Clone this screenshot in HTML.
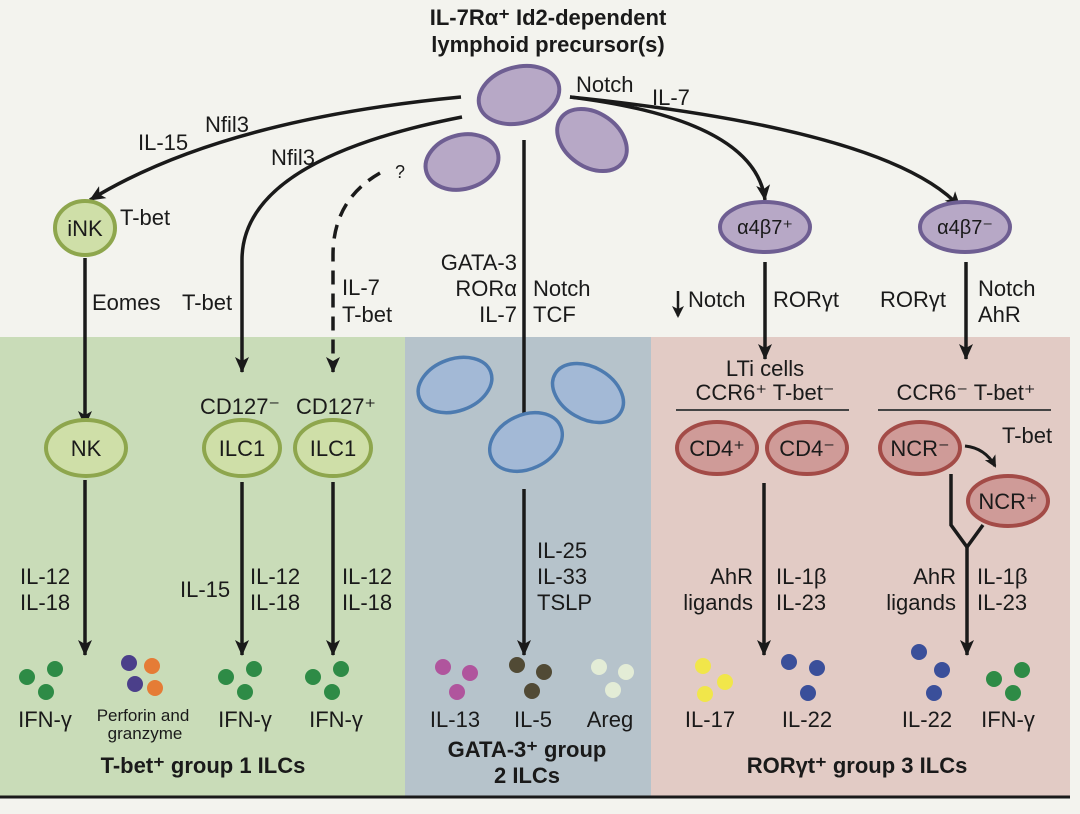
<!DOCTYPE html>
<html><head><meta charset="utf-8"><style>
body{margin:0;background:#f3f3ee;}
svg{display:block;font-family:"Liberation Sans",Arial,sans-serif;}
.t{font-size:22px;fill:#1a1a1a;}
.b{font-weight:bold;}
</style></head><body>
<svg width="1080" height="814" viewBox="0 0 1080 814">
<defs>
<marker id="ah" markerWidth="12" markerHeight="12" refX="10" refY="6" orient="auto" markerUnits="userSpaceOnUse">
<path d="M0,0 L12,6 L0,12 L3,6 Z" fill="#1a1a1a"/></marker>
<marker id="ahs" markerWidth="18" markerHeight="18" refX="15" refY="8" orient="auto" markerUnits="userSpaceOnUse">
<path d="M0,1 L16,8 L0,15 L4,8 Z" fill="#1a1a1a"/></marker>
</defs>
<rect width="1080" height="814" fill="#f3f3ee"/>
<rect x="0" y="337" width="405" height="459" fill="#c9dcb8"/>
<rect x="405" y="337" width="246" height="459" fill="#b6c3cb"/>
<rect x="651" y="337" width="419" height="459" fill="#e2cbc5"/>
<line x1="0" y1="797" x2="1070" y2="797" stroke="#1a1a1a" stroke-width="3"/>

<text x="548" y="25" text-anchor="middle" class="t b" font-size="24">IL-7Rα⁺ Id2-dependent</text>
<text x="548" y="52" text-anchor="middle" class="t b" font-size="24">lymphoid precursor(s)</text>

<g fill="none" stroke="#1a1a1a" stroke-width="3.5">
<path d="M461,97 Q220,120 90,200" marker-end="url(#ahs)"/>
<path d="M462,117 Q242,160 242,260 L242,372" marker-end="url(#ahs)"/>
<path d="M380,173 Q333,200 333,255 L333,372" stroke-dasharray="14,9" marker-end="url(#ahs)"/>
<path d="M524,140 L524,430" marker-end="url(#ahs)"/>
<path d="M570,97 Q755,120 765,200" marker-end="url(#ahs)"/>
<path d="M570,97 Q890,130 960,207" marker-end="url(#ahs)"/>
<path d="M85,258 L85,426" marker-end="url(#ahs)"/>
<path d="M85,480 L85,655" marker-end="url(#ahs)"/>
<path d="M242,482 L242,655" marker-end="url(#ahs)"/>
<path d="M333,482 L333,655" marker-end="url(#ahs)"/>
<path d="M524,489 L524,655" marker-end="url(#ahs)"/>
<path d="M765,262 L765,359" marker-end="url(#ahs)"/>
<path d="M966,262 L966,359" marker-end="url(#ahs)"/>
<path d="M764,483 L764,655" marker-end="url(#ahs)"/>
<path d="M951,474 L951,525 L967,547 L983,525"/>
<path d="M967,547 L967,655" marker-end="url(#ahs)"/>
<path d="M965,446 Q985,448 995,466" stroke-width="3" marker-end="url(#ah)"/>
</g>
<path d="M678,291 L678,316" stroke="#1a1a1a" stroke-width="2.5" marker-end="url(#ah)"/>
<line x1="676" y1="410" x2="849" y2="410" stroke="#444" stroke-width="2"/>
<line x1="878" y1="410" x2="1051" y2="410" stroke="#444" stroke-width="2"/>

<g fill="#b7a8c6" stroke="#6e5e92" stroke-width="4">
<ellipse cx="519" cy="95" rx="41" ry="28" transform="rotate(-15 519 95)"/>
<ellipse cx="462" cy="162" rx="37" ry="27" transform="rotate(-15 462 162)"/>
<ellipse cx="592" cy="140" rx="38" ry="27" transform="rotate(35 592 140)"/>
<ellipse cx="765" cy="227" rx="45" ry="25"/>
<ellipse cx="965" cy="227" rx="45" ry="25"/>
</g>
<g fill="#cfdfa8" stroke="#8ea64d" stroke-width="4">
<ellipse cx="85" cy="228" rx="30" ry="27"/>
<ellipse cx="86" cy="448" rx="40" ry="28"/>
<ellipse cx="242" cy="448" rx="38" ry="28"/>
<ellipse cx="333" cy="448" rx="38" ry="28"/>
</g>
<g fill="#a3b9d6" stroke="#4d7bb0" stroke-width="3.5">
<ellipse cx="455" cy="385" rx="38" ry="26" transform="rotate(-20 455 385)"/>
<ellipse cx="588" cy="393" rx="38" ry="26" transform="rotate(30 588 393)"/>
<ellipse cx="526" cy="442" rx="38" ry="27" transform="rotate(-25 526 442)"/>
</g>
<g fill="#cf9b98" stroke="#a34b47" stroke-width="4">
<ellipse cx="717" cy="448" rx="40" ry="26"/>
<ellipse cx="807" cy="448" rx="40" ry="26"/>
<ellipse cx="920" cy="448" rx="40" ry="26"/>
<ellipse cx="1008" cy="501" rx="40" ry="25"/>
</g>

<g class="t" text-anchor="middle">
<text x="85" y="236">iNK</text>
<text x="86" y="456">NK</text>
<text x="242" y="456">ILC1</text>
<text x="333" y="456">ILC1</text>
<text x="765" y="234" font-size="20">α4β7⁺</text>
<text x="965" y="234" font-size="20">α4β7⁻</text>
<text x="717" y="456">CD4⁺</text>
<text x="807" y="456">CD4⁻</text>
<text x="920" y="456">NCR⁻</text>
<text x="1008" y="509">NCR⁺</text>
<text x="240" y="414">CD127⁻</text>
<text x="336" y="414">CD127⁺</text>
<text x="765" y="376">LTi cells</text>
<text x="765" y="400">CCR6⁺ T-bet⁻</text>
<text x="966" y="400">CCR6⁻ T-bet⁺</text>
</g>

<g class="t">
<text x="576" y="92">Notch</text>
<text x="652" y="105">IL-7</text>
<text x="205" y="132">Nfil3</text>
<text x="138" y="150">IL-15</text>
<text x="271" y="165">Nfil3</text>
<text x="395" y="178" font-size="18">?</text>
<text x="120" y="225">T-bet</text>
<text x="92" y="310">Eomes</text>
<text x="182" y="310">T-bet</text>
<text x="342" y="295">IL-7</text>
<text x="342" y="322">T-bet</text>
<text x="517" y="270" text-anchor="end">GATA-3</text>
<text x="517" y="296" text-anchor="end">RORα</text>
<text x="517" y="322" text-anchor="end">IL-7</text>
<text x="533" y="296">Notch</text>
<text x="533" y="322">TCF</text>
<text x="688" y="307">Notch</text>
<text x="773" y="307">RORγt</text>
<text x="880" y="307">RORγt</text>
<text x="978" y="296">Notch</text>
<text x="978" y="322">AhR</text>
<text x="1002" y="443">T-bet</text>
<text x="20" y="584">IL-12</text>
<text x="20" y="610">IL-18</text>
<text x="180" y="597">IL-15</text>
<text x="250" y="584">IL-12</text>
<text x="250" y="610">IL-18</text>
<text x="342" y="584">IL-12</text>
<text x="342" y="610">IL-18</text>
<text x="537" y="558">IL-25</text>
<text x="537" y="584">IL-33</text>
<text x="537" y="610">TSLP</text>
<text x="753" y="584" text-anchor="end">AhR</text>
<text x="753" y="610" text-anchor="end">ligands</text>
<text x="776" y="584">IL-1β</text>
<text x="776" y="610">IL-23</text>
<text x="956" y="584" text-anchor="end">AhR</text>
<text x="956" y="610" text-anchor="end">ligands</text>
<text x="977" y="584">IL-1β</text>
<text x="977" y="610">IL-23</text>
</g>

<g>
<circle cx="27" cy="677" r="8" fill="#2e8b46"/><circle cx="55" cy="669" r="8" fill="#2e8b46"/><circle cx="46" cy="692" r="8" fill="#2e8b46"/>
<circle cx="129" cy="663" r="8" fill="#4b3f8a"/><circle cx="152" cy="666" r="8" fill="#e57c36"/><circle cx="135" cy="684" r="8" fill="#4b3f8a"/><circle cx="155" cy="688" r="8" fill="#e57c36"/>
<circle cx="226" cy="677" r="8" fill="#2e8b46"/><circle cx="254" cy="669" r="8" fill="#2e8b46"/><circle cx="245" cy="692" r="8" fill="#2e8b46"/>
<circle cx="313" cy="677" r="8" fill="#2e8b46"/><circle cx="341" cy="669" r="8" fill="#2e8b46"/><circle cx="332" cy="692" r="8" fill="#2e8b46"/>
<circle cx="443" cy="667" r="8" fill="#b0559d"/><circle cx="470" cy="673" r="8" fill="#b0559d"/><circle cx="457" cy="692" r="8" fill="#b0559d"/>
<circle cx="517" cy="665" r="8" fill="#514a35"/><circle cx="544" cy="672" r="8" fill="#514a35"/><circle cx="532" cy="691" r="8" fill="#514a35"/>
<circle cx="599" cy="667" r="8" fill="#e3ecd6"/><circle cx="626" cy="672" r="8" fill="#e3ecd6"/><circle cx="613" cy="690" r="8" fill="#e3ecd6"/>
<circle cx="703" cy="666" r="8" fill="#f1e64a"/><circle cx="725" cy="682" r="8" fill="#f1e64a"/><circle cx="705" cy="694" r="8" fill="#f1e64a"/>
<circle cx="789" cy="662" r="8" fill="#3a4f9a"/><circle cx="817" cy="668" r="8" fill="#3a4f9a"/><circle cx="808" cy="693" r="8" fill="#3a4f9a"/>
<circle cx="919" cy="652" r="8" fill="#3a4f9a"/><circle cx="942" cy="670" r="8" fill="#3a4f9a"/><circle cx="934" cy="693" r="8" fill="#3a4f9a"/>
<circle cx="994" cy="679" r="8" fill="#2e8b46"/><circle cx="1022" cy="670" r="8" fill="#2e8b46"/><circle cx="1013" cy="693" r="8" fill="#2e8b46"/>
</g>

<g class="t" text-anchor="middle">
<text x="45" y="727">IFN-γ</text>
<text x="143" y="721" font-size="17">Perforin and</text>
<text x="145" y="739" font-size="17">granzyme</text>
<text x="245" y="727">IFN-γ</text>
<text x="336" y="727">IFN-γ</text>
<text x="455" y="727">IL-13</text>
<text x="533" y="727">IL-5</text>
<text x="610" y="727">Areg</text>
<text x="710" y="727">IL-17</text>
<text x="807" y="727">IL-22</text>
<text x="927" y="727">IL-22</text>
<text x="1008" y="727">IFN-γ</text>
<text x="203" y="773" class="b" font-size="22">T-bet⁺ group 1 ILCs</text>
<text x="527" y="757" class="b" font-size="22">GATA-3⁺ group</text>
<text x="527" y="783" class="b" font-size="22">2 ILCs</text>
<text x="857" y="773" class="b" font-size="22">RORγt⁺ group 3 ILCs</text>
</g>
</svg>
</body></html>
